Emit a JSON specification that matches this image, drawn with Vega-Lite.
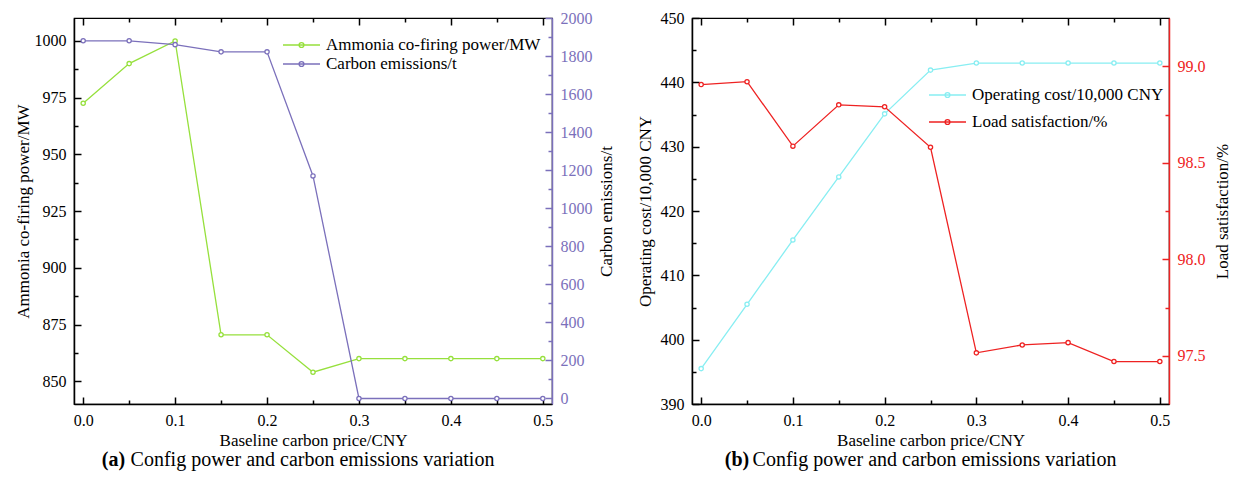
{
  "$schema": "https://vega.github.io/schema/vega-lite/v6.json",
  "padding": {"left": 13, "top": 9, "right": 5, "bottom": 2},
  "spacing": 20,
  "datasets": {
    "a": [
      {"p": 0.0, "s": "Ammonia co-firing power/MW", "v": 972.5},
      {"p": 0.05, "s": "Ammonia co-firing power/MW", "v": 990},
      {"p": 0.1, "s": "Ammonia co-firing power/MW", "v": 1000},
      {"p": 0.15, "s": "Ammonia co-firing power/MW", "v": 870.5},
      {"p": 0.2, "s": "Ammonia co-firing power/MW", "v": 870.5},
      {"p": 0.25, "s": "Ammonia co-firing power/MW", "v": 854},
      {"p": 0.3, "s": "Ammonia co-firing power/MW", "v": 860},
      {"p": 0.35, "s": "Ammonia co-firing power/MW", "v": 860},
      {"p": 0.4, "s": "Ammonia co-firing power/MW", "v": 860},
      {"p": 0.45, "s": "Ammonia co-firing power/MW", "v": 860},
      {"p": 0.5, "s": "Ammonia co-firing power/MW", "v": 860},
      {"p": 0.0, "s": "Carbon emissions/t", "v": 1880},
      {"p": 0.05, "s": "Carbon emissions/t", "v": 1880},
      {"p": 0.1, "s": "Carbon emissions/t", "v": 1860},
      {"p": 0.15, "s": "Carbon emissions/t", "v": 1822},
      {"p": 0.2, "s": "Carbon emissions/t", "v": 1822},
      {"p": 0.25, "s": "Carbon emissions/t", "v": 1170},
      {"p": 0.3, "s": "Carbon emissions/t", "v": 0},
      {"p": 0.35, "s": "Carbon emissions/t", "v": 0},
      {"p": 0.4, "s": "Carbon emissions/t", "v": 0},
      {"p": 0.45, "s": "Carbon emissions/t", "v": 0},
      {"p": 0.5, "s": "Carbon emissions/t", "v": 0}
    ],
    "b": [
      {"p": 0.0, "s": "Operating cost/10,000 CNY", "v": 395.5},
      {"p": 0.05, "s": "Operating cost/10,000 CNY", "v": 405.5},
      {"p": 0.1, "s": "Operating cost/10,000 CNY", "v": 415.5},
      {"p": 0.15, "s": "Operating cost/10,000 CNY", "v": 425.3},
      {"p": 0.2, "s": "Operating cost/10,000 CNY", "v": 435.1},
      {"p": 0.25, "s": "Operating cost/10,000 CNY", "v": 441.9},
      {"p": 0.3, "s": "Operating cost/10,000 CNY", "v": 443},
      {"p": 0.35, "s": "Operating cost/10,000 CNY", "v": 443},
      {"p": 0.4, "s": "Operating cost/10,000 CNY", "v": 443},
      {"p": 0.45, "s": "Operating cost/10,000 CNY", "v": 443},
      {"p": 0.5, "s": "Operating cost/10,000 CNY", "v": 443},
      {"p": 0.0, "s": "Load satisfaction/%", "v": 98.905},
      {"p": 0.05, "s": "Load satisfaction/%", "v": 98.92},
      {"p": 0.1, "s": "Load satisfaction/%", "v": 98.586},
      {"p": 0.15, "s": "Load satisfaction/%", "v": 98.8},
      {"p": 0.2, "s": "Load satisfaction/%", "v": 98.79},
      {"p": 0.25, "s": "Load satisfaction/%", "v": 98.58},
      {"p": 0.3, "s": "Load satisfaction/%", "v": 97.515},
      {"p": 0.35, "s": "Load satisfaction/%", "v": 97.556},
      {"p": 0.4, "s": "Load satisfaction/%", "v": 97.568},
      {"p": 0.45, "s": "Load satisfaction/%", "v": 97.47},
      {"p": 0.5, "s": "Load satisfaction/%", "v": 97.47}
    ]
  },
  "hconcat": [
    {
      "width": 478,
      "height": 386,
      "data": {"name": "a"},
      "layer": [
        {
          "transform": [{"filter": "datum.s === 'Ammonia co-firing power/MW'"}],
          "layer": [
            {"mark": {"type": "line", "strokeWidth": 1.3},
             "encoding": {
               "x": {"field": "p", "type": "quantitative", "title": "Baseline carbon price/CNY", "scale": {"domain": [-0.01, 0.51], "nice": false, "zero": false},
                 "axis": {"orient": "bottom", "values": [0, 0.1, 0.2, 0.3, 0.4, 0.5], "format": ".1f", "labelPadding": 15, "titlePadding": 4}},
               "y": {"field": "v", "type": "quantitative", "title": "Ammonia co-firing power/MW", "scale": {"domain": [840, 1010.1], "nice": false, "zero": false},
                 "axis": {"orient": "left", "values": [850, 875, 900, 925, 950, 975, 1000], "format": "d", "labelPadding": 15, "titlePadding": 2}},
               "color": {"field": "s", "type": "nominal", "scale": {"domain": ["Ammonia co-firing power/MW", "Carbon emissions/t"], "range": ["#96e03c", "#7b70bb"]},
                 "legend": {"title": null, "orient": "none", "legendX": 216.5, "legendY": 16, "rowPadding": 0, "labelLimit": 0}}}},
            {"mark": {"type": "point", "filled": false, "fill": "#ffffff", "size": 18, "strokeWidth": 1.3, "opacity": 1},
             "encoding": {
               "x": {"field": "p", "type": "quantitative", "scale": {"domain": [-0.01, 0.51], "nice": false, "zero": false}, "axis": null},
               "y": {"field": "v", "type": "quantitative", "scale": {"domain": [840, 1010.1], "nice": false, "zero": false}, "axis": null},
               "color": {"field": "s", "type": "nominal", "scale": {"domain": ["Ammonia co-firing power/MW", "Carbon emissions/t"], "range": ["#96e03c", "#7b70bb"]},
                 "legend": {"title": null, "orient": "none", "legendX": 216.5, "legendY": 16, "rowPadding": 0, "labelLimit": 0}}}},
            {"mark": {"type": "point", "opacity": 0},
             "encoding": {
               "x": {"field": "p", "type": "quantitative", "scale": {"domain": [-0.01, 0.51], "nice": false, "zero": false},
                 "axis": {"orient": "top", "values": [0, 0.1, 0.2, 0.3, 0.4, 0.5], "labels": false, "domain": false, "title": null}},
               "y": {"field": "v", "type": "quantitative", "scale": {"domain": [840, 1010.1], "nice": false, "zero": false}, "axis": null}}},
            {"mark": {"type": "point", "opacity": 0},
             "encoding": {
               "x": {"field": "p", "type": "quantitative", "scale": {"domain": [-0.01, 0.51], "nice": false, "zero": false},
                 "axis": {"orient": "bottom", "values": [0.05, 0.15, 0.25, 0.35, 0.45], "labels": false, "domain": false, "tickSize": -4, "title": null}},
               "y": {"field": "v", "type": "quantitative", "scale": {"domain": [840, 1010.1], "nice": false, "zero": false}, "axis": null}}},
            {"mark": {"type": "point", "opacity": 0},
             "encoding": {
               "x": {"field": "p", "type": "quantitative", "scale": {"domain": [-0.01, 0.51], "nice": false, "zero": false},
                 "axis": {"orient": "top", "values": [0.05, 0.15, 0.25, 0.35, 0.45], "labels": false, "domain": false, "tickSize": -4, "title": null}},
               "y": {"field": "v", "type": "quantitative", "scale": {"domain": [840, 1010.1], "nice": false, "zero": false}, "axis": null}}},
            {"mark": {"type": "point", "opacity": 0},
             "encoding": {
               "x": {"field": "p", "type": "quantitative", "scale": {"domain": [-0.01, 0.51], "nice": false, "zero": false}, "axis": null},
               "y": {"field": "v", "type": "quantitative", "scale": {"domain": [840, 1010.1], "nice": false, "zero": false},
                 "axis": {"orient": "left", "values": [862.5, 887.5, 912.5, 937.5, 962.5, 987.5], "labels": false, "domain": false, "tickSize": -4, "title": null}}}},
            {"mark": {"type": "point", "opacity": 0},
             "encoding": {
               "x": {"field": "p", "type": "quantitative", "scale": {"domain": [-0.01, 0.51], "nice": false, "zero": false},
                 "axis": {"orient": "bottom", "values": [], "ticks": false, "labels": false, "domain": false, "title": "(a)",
                   "titleFontWeight": "bold", "titleFontSize": 20, "titleX": 39, "titleY": 61, "titleBaseline": "alphabetic", "titleAlign": "center"}},
               "y": {"field": "v", "type": "quantitative", "scale": {"domain": [840, 1010.1], "nice": false, "zero": false}, "axis": null}}},
            {"mark": {"type": "point", "opacity": 0},
             "encoding": {
               "x": {"field": "p", "type": "quantitative", "scale": {"domain": [-0.01, 0.51], "nice": false, "zero": false},
                 "axis": {"orient": "bottom", "values": [], "ticks": false, "labels": false, "domain": false, "title": "Config power and carbon emissions variation",
                   "titleFontSize": 20, "titleX": 238, "titleY": 61, "titleBaseline": "alphabetic", "titleAlign": "center"}},
               "y": {"field": "v", "type": "quantitative", "scale": {"domain": [840, 1010.1], "nice": false, "zero": false}, "axis": null}}}
          ],
          "resolve": {"axis": {"x": "independent", "y": "independent"}}
        },
        {
          "transform": [{"filter": "datum.s === 'Carbon emissions/t'"}],
          "layer": [
            {"mark": {"type": "line", "strokeWidth": 1.3},
             "encoding": {
               "x": {"field": "p", "type": "quantitative", "scale": {"domain": [-0.01, 0.51], "nice": false, "zero": false}, "axis": null},
               "y": {"field": "v", "type": "quantitative", "title": "Carbon emissions/t", "scale": {"domain": [-29, 2000], "nice": false, "zero": false},
                 "axis": {"orient": "right", "values": [0, 200, 400, 600, 800, 1000, 1200, 1400, 1600, 1800, 2000], "format": "d", "labelPadding": 15, "titlePadding": 6, "titleAngle": 270, "titleBaseline": "top",
                   "labelColor": "#7b70bb", "domainColor": "#7b70bb", "tickColor": "#7b70bb"}},
               "color": {"field": "s", "type": "nominal", "scale": {"domain": ["Ammonia co-firing power/MW", "Carbon emissions/t"], "range": ["#96e03c", "#7b70bb"]},
                 "legend": {"title": null, "orient": "none", "legendX": 216.5, "legendY": 16, "rowPadding": 0, "labelLimit": 0}}}},
            {"mark": {"type": "point", "filled": false, "fill": "#ffffff", "size": 18, "strokeWidth": 1.3, "opacity": 1},
             "encoding": {
               "x": {"field": "p", "type": "quantitative", "scale": {"domain": [-0.01, 0.51], "nice": false, "zero": false}, "axis": null},
               "y": {"field": "v", "type": "quantitative", "scale": {"domain": [-29, 2000], "nice": false, "zero": false}, "axis": null},
               "color": {"field": "s", "type": "nominal", "scale": {"domain": ["Ammonia co-firing power/MW", "Carbon emissions/t"], "range": ["#96e03c", "#7b70bb"]},
                 "legend": {"title": null, "orient": "none", "legendX": 216.5, "legendY": 16, "rowPadding": 0, "labelLimit": 0}}}},
            {"mark": {"type": "point", "opacity": 0},
             "encoding": {
               "x": {"field": "p", "type": "quantitative", "scale": {"domain": [-0.01, 0.51], "nice": false, "zero": false}, "axis": null},
               "y": {"field": "v", "type": "quantitative", "scale": {"domain": [-29, 2000], "nice": false, "zero": false},
                 "axis": {"orient": "right", "values": [100, 300, 500, 700, 900, 1100, 1300, 1500, 1700, 1900], "labels": false, "domain": false, "tickSize": -4, "title": null, "tickColor": "#7b70bb"}}}}
          ],
          "resolve": {"axis": {"y": "independent"}}
        }
      ],
      "resolve": {"scale": {"y": "independent"}, "axis": {"x": "independent"}}
    },
    {
      "width": 477,
      "height": 386,
      "data": {"name": "b"},
      "layer": [
        {
          "transform": [{"filter": "datum.s === 'Operating cost/10,000 CNY'"}],
          "layer": [
            {"mark": {"type": "line", "strokeWidth": 1.3},
             "encoding": {
               "x": {"field": "p", "type": "quantitative", "title": "Baseline carbon price/CNY", "scale": {"domain": [-0.01, 0.51], "nice": false, "zero": false},
                 "axis": {"orient": "bottom", "values": [0, 0.1, 0.2, 0.3, 0.4, 0.5], "format": ".1f", "labelPadding": 15, "titlePadding": 4}},
               "y": {"field": "v", "type": "quantitative", "title": "Operating cost/10,000 CNY", "scale": {"domain": [390, 450], "nice": false, "zero": false},
                 "axis": {"orient": "left", "values": [390, 400, 410, 420, 430, 440, 450], "format": "d", "labelPadding": 15, "titlePadding": 6}},
               "color": {"field": "s", "type": "nominal", "scale": {"domain": ["Operating cost/10,000 CNY", "Load satisfaction/%"], "range": ["#88eef2", "#ee2222"]},
                 "legend": {"title": null, "orient": "none", "legendX": 244.5, "legendY": 66, "rowPadding": 8, "labelLimit": 0}}}},
            {"mark": {"type": "point", "filled": false, "fill": "#ffffff", "size": 18, "strokeWidth": 1.3, "opacity": 1},
             "encoding": {
               "x": {"field": "p", "type": "quantitative", "scale": {"domain": [-0.01, 0.51], "nice": false, "zero": false}, "axis": null},
               "y": {"field": "v", "type": "quantitative", "scale": {"domain": [390, 450], "nice": false, "zero": false}, "axis": null},
               "color": {"field": "s", "type": "nominal", "scale": {"domain": ["Operating cost/10,000 CNY", "Load satisfaction/%"], "range": ["#88eef2", "#ee2222"]},
                 "legend": {"title": null, "orient": "none", "legendX": 244.5, "legendY": 66, "rowPadding": 8, "labelLimit": 0}}}},
            {"mark": {"type": "point", "opacity": 0},
             "encoding": {
               "x": {"field": "p", "type": "quantitative", "scale": {"domain": [-0.01, 0.51], "nice": false, "zero": false},
                 "axis": {"orient": "top", "values": [0, 0.1, 0.2, 0.3, 0.4, 0.5], "labels": false, "domain": false, "title": null}},
               "y": {"field": "v", "type": "quantitative", "scale": {"domain": [390, 450], "nice": false, "zero": false}, "axis": null}}},
            {"mark": {"type": "point", "opacity": 0},
             "encoding": {
               "x": {"field": "p", "type": "quantitative", "scale": {"domain": [-0.01, 0.51], "nice": false, "zero": false},
                 "axis": {"orient": "bottom", "values": [0.05, 0.15, 0.25, 0.35, 0.45], "labels": false, "domain": false, "tickSize": -4, "title": null}},
               "y": {"field": "v", "type": "quantitative", "scale": {"domain": [390, 450], "nice": false, "zero": false}, "axis": null}}},
            {"mark": {"type": "point", "opacity": 0},
             "encoding": {
               "x": {"field": "p", "type": "quantitative", "scale": {"domain": [-0.01, 0.51], "nice": false, "zero": false},
                 "axis": {"orient": "top", "values": [0.05, 0.15, 0.25, 0.35, 0.45], "labels": false, "domain": false, "tickSize": -4, "title": null}},
               "y": {"field": "v", "type": "quantitative", "scale": {"domain": [390, 450], "nice": false, "zero": false}, "axis": null}}},
            {"mark": {"type": "point", "opacity": 0},
             "encoding": {
               "x": {"field": "p", "type": "quantitative", "scale": {"domain": [-0.01, 0.51], "nice": false, "zero": false}, "axis": null},
               "y": {"field": "v", "type": "quantitative", "scale": {"domain": [390, 450], "nice": false, "zero": false},
                 "axis": {"orient": "left", "values": [395, 405, 415, 425, 435, 445], "labels": false, "domain": false, "tickSize": -4, "title": null}}}},
            {"mark": {"type": "point", "opacity": 0},
             "encoding": {
               "x": {"field": "p", "type": "quantitative", "scale": {"domain": [-0.01, 0.51], "nice": false, "zero": false},
                 "axis": {"orient": "bottom", "values": [], "ticks": false, "labels": false, "domain": false, "title": "(b)",
                   "titleFontWeight": "bold", "titleFontSize": 20, "titleX": 44.5, "titleY": 61, "titleBaseline": "alphabetic", "titleAlign": "center"}},
               "y": {"field": "v", "type": "quantitative", "scale": {"domain": [390, 450], "nice": false, "zero": false}, "axis": null}}},
            {"mark": {"type": "point", "opacity": 0},
             "encoding": {
               "x": {"field": "p", "type": "quantitative", "scale": {"domain": [-0.01, 0.51], "nice": false, "zero": false},
                 "axis": {"orient": "bottom", "values": [], "ticks": false, "labels": false, "domain": false, "title": "Config power and carbon emissions variation",
                   "titleFontSize": 20, "titleX": 242, "titleY": 61, "titleBaseline": "alphabetic", "titleAlign": "center"}},
               "y": {"field": "v", "type": "quantitative", "scale": {"domain": [390, 450], "nice": false, "zero": false}, "axis": null}}}
          ],
          "resolve": {"axis": {"x": "independent", "y": "independent"}}
        },
        {
          "transform": [{"filter": "datum.s === 'Load satisfaction/%'"}],
          "layer": [
            {"mark": {"type": "line", "strokeWidth": 1.3},
             "encoding": {
               "x": {"field": "p", "type": "quantitative", "scale": {"domain": [-0.01, 0.51], "nice": false, "zero": false}, "axis": null},
               "y": {"field": "v", "type": "quantitative", "title": "Load satisfaction/%", "scale": {"domain": [97.25, 99.25], "nice": false, "zero": false},
                 "axis": {"orient": "right", "values": [97.5, 98.0, 98.5, 99.0], "format": ".1f", "labelPadding": 15, "titlePadding": 9, "titleAngle": 270, "titleBaseline": "top",
                   "labelColor": "#ee2222", "domainColor": "#ee2222", "tickColor": "#ee2222"}},
               "color": {"field": "s", "type": "nominal", "scale": {"domain": ["Operating cost/10,000 CNY", "Load satisfaction/%"], "range": ["#88eef2", "#ee2222"]},
                 "legend": {"title": null, "orient": "none", "legendX": 244.5, "legendY": 66, "rowPadding": 8, "labelLimit": 0}}}},
            {"mark": {"type": "point", "filled": false, "fill": "#ffffff", "size": 18, "strokeWidth": 1.3, "opacity": 1},
             "encoding": {
               "x": {"field": "p", "type": "quantitative", "scale": {"domain": [-0.01, 0.51], "nice": false, "zero": false}, "axis": null},
               "y": {"field": "v", "type": "quantitative", "scale": {"domain": [97.25, 99.25], "nice": false, "zero": false}, "axis": null},
               "color": {"field": "s", "type": "nominal", "scale": {"domain": ["Operating cost/10,000 CNY", "Load satisfaction/%"], "range": ["#88eef2", "#ee2222"]},
                 "legend": {"title": null, "orient": "none", "legendX": 244.5, "legendY": 66, "rowPadding": 8, "labelLimit": 0}}}},
            {"mark": {"type": "point", "opacity": 0},
             "encoding": {
               "x": {"field": "p", "type": "quantitative", "scale": {"domain": [-0.01, 0.51], "nice": false, "zero": false}, "axis": null},
               "y": {"field": "v", "type": "quantitative", "scale": {"domain": [97.25, 99.25], "nice": false, "zero": false},
                 "axis": {"orient": "right", "values": [97.75, 98.25, 98.75], "labels": false, "domain": false, "tickSize": -4, "title": null, "tickColor": "#ee2222"}}}}
          ],
          "resolve": {"axis": {"y": "independent"}}
        }
      ],
      "resolve": {"scale": {"y": "independent"}, "axis": {"x": "independent"}}
    }
  ],
  "resolve": {"scale": {"color": "independent"}, "legend": {"color": "independent"}},
  "config": {
    "font": "Liberation Serif",
    "view": {"stroke": "black", "strokeWidth": 1.2},
    "axis": {"labelFont": "Liberation Serif", "titleFont": "Liberation Serif", "labelFontSize": 16, "titleFontSize": 17,
      "titleFontWeight": "normal", "labelColor": "black", "titleColor": "black", "domainColor": "black", "tickColor": "black",
      "domainWidth": 1.5, "tickWidth": 1.5, "tickSize": -7, "grid": false},
    "legend": {"labelFont": "Liberation Serif", "labelFontSize": 17, "labelColor": "black",
      "symbolType": "M-1.85,0L1.85,0M0.24,0A0.24,0.24,0,1,1,-0.24,0A0.24,0.24,0,1,1,0.24,0Z", "symbolSize": 400, "symbolStrokeWidth": 1.4, "labelOffset": 13.5},
    "title": {"font": "Liberation Serif", "color": "black"}
  }
}
